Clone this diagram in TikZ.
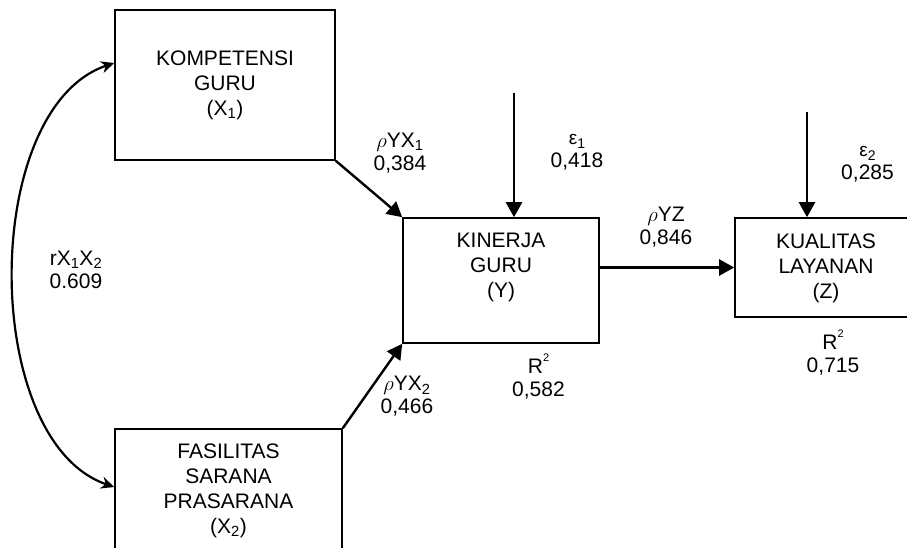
\documentclass[tikz,border=0pt]{standalone}
\usepackage{fontspec}
\setmainfont{Liberation Sans}
\usetikzlibrary{arrows.meta,calc}

\newcommand\subidx[1]{\textsubscript{#1}}
\newcommand\supsq{\raisebox{0.55em}{\fontsize{11}{11}\selectfont 2}}
\newcommand\epsidx[1]{{\fontsize{19}{19}\selectfont ε\raisebox{-0.2em}{\fontsize{14}{14}\selectfont #1}}}

\begin{document}
\begin{tikzpicture}[x=1pt,y=-1pt,
  every node/.style={font=\fontsize{21}{25}\selectfont},
  varbox/.style={draw,line width=1.6pt,rectangle,inner sep=0pt},
  boxtext/.style={align=center,inner sep=0pt},
  coef/.style={align=center,inner sep=0pt,font=\fontsize{21}{23}\selectfont},
  path/.style={line width=2.4pt,-{Triangle[length=15pt,width=16pt]}},
  corr/.style={line width=2.2pt,{Stealth[length=13pt,width=12pt,inset=4pt]}-{Stealth[length=13pt,width=12pt,inset=4pt]}}
]
\useasboundingbox (0,0) rectangle (907,547);
\clip (0,0) rectangle (907,547);

% variable boxes
\node[varbox,minimum width=220pt,minimum height=150pt] (x1) at (225,85) {};
\node[varbox,minimum width=227pt,minimum height=123pt] (x2) at (228.5,490.5) {};
\node[varbox,minimum width=196pt,minimum height=125pt] (y)  at (501,280.5) {};
\node[varbox,minimum width=182pt,minimum height=99pt]  (z)  at (826,267.5) {};

% box captions
\node[boxtext] (x1t) at (225,85) {KOMPETENSI\\GURU\\(X\subidx{1})};
\node[boxtext] (x2t) at (228.5,490.5) {FASILITAS\\SARANA\\PRASARANA\\(X\subidx{2})};
\node[boxtext] (yt)  at (501,267) {KINERJA\\GURU\\(Y)};
\node[boxtext] (zt)  at (826,268) {KUALITAS\\LAYANAN\\(Z)};

% error terms (free ends)
\coordinate (e1) at (514,93);
\coordinate (e2) at (807,112);

% paths
\draw[path] (x1.south east) -- (y.north west);
\draw[path] (x2.north east) -- (y.south west);
\draw[path] (z.west -| y.east) -- (z.west);
\draw[path] (e1) -- (e1 |- y.north);
\draw[path] (e2) -- (e2 |- z.north);

% correlation between the exogenous variables
\coordinate (c1) at (x1.west |- 0,63);
\coordinate (c2) at (x2.west |- 0,487);
\draw[corr] (c1) .. controls (-20,108) and (-20,441) .. (c2);

% coefficients
\node[coef] (r12)  at (76,270)    {rX\subidx{1}X\subidx{2}\\0.609};
\node[coef] (pyx1) at (400,153)   {$\rho$YX\subidx{1}\\0,384};
\node[coef] (pyx2) at (407,396.5) {$\rho$YX\subidx{2}\\0,466};
\node[coef] (eps1) at (577,152.5) {\epsidx{1}\\0,418};
\node[coef] (eps2) at (867.5,164) {\epsidx{2}\\0,285};
\node[coef] (pyz)  at (666,227.5) {$\rho$YZ\\0,846};
\node[coef] (r2y)  at (538.5,376.5) {R\supsq\\0,582};
\node[coef] (r2z)  at (833,352.5) {R\supsq\\0,715};
\end{tikzpicture}
\end{document}
